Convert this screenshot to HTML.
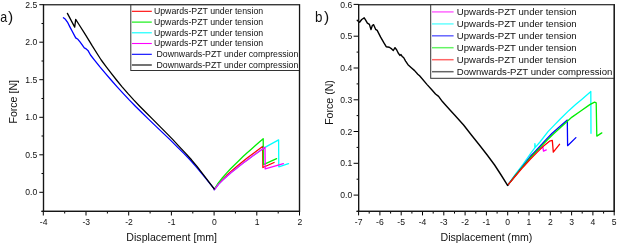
<!DOCTYPE html>
<html><head><meta charset="utf-8"><style>
html,body{margin:0;padding:0;background:#fff;}
body{width:617px;height:245px;overflow:hidden;}
svg{display:block;will-change:transform;}
text{font-family:"Liberation Sans", sans-serif;fill:#111;}
.tl{font-size:8.6px;}
.lgl{font-size:8.75px;}
.lgr{font-size:9.6px;}
.at{font-size:10.6px;}
.pl{font-size:14.5px;}
.pp{font-size:15.5px;}
</style></head><body>
<svg width="617" height="245" viewBox="0 0 617 245">
<rect width="617" height="245" fill="#fff"/>
<line x1="42.9" y1="4.7" x2="300.1" y2="4.7" stroke="#3a3a3a" stroke-width="1.2"/>
<line x1="299.5" y1="4.7" x2="299.5" y2="211.3" stroke="#151515" stroke-width="1.2" fill="none"/>
<line x1="43.5" y1="4.2" x2="43.5" y2="211.3" stroke="#151515" stroke-width="1.2" fill="none"/>
<line x1="41.5" y1="211.3" x2="300.1" y2="211.3" stroke="#151515" stroke-width="1.2" fill="none"/>
<line x1="39.3" y1="192.3" x2="43.5" y2="192.3" stroke="#000" stroke-width="1"/>
<text x="37.3" y="195.4" class="tl" text-anchor="end">0.0</text>
<line x1="41.5" y1="173.5" x2="43.5" y2="173.5" stroke="#000" stroke-width="1"/>
<line x1="39.3" y1="154.8" x2="43.5" y2="154.8" stroke="#000" stroke-width="1"/>
<text x="37.3" y="157.9" class="tl" text-anchor="end">0.5</text>
<line x1="41.5" y1="136.0" x2="43.5" y2="136.0" stroke="#000" stroke-width="1"/>
<line x1="39.3" y1="117.3" x2="43.5" y2="117.3" stroke="#000" stroke-width="1"/>
<text x="37.3" y="120.4" class="tl" text-anchor="end">1.0</text>
<line x1="41.5" y1="98.5" x2="43.5" y2="98.5" stroke="#000" stroke-width="1"/>
<line x1="39.3" y1="79.7" x2="43.5" y2="79.7" stroke="#000" stroke-width="1"/>
<text x="37.3" y="82.8" class="tl" text-anchor="end">1.5</text>
<line x1="41.5" y1="61.0" x2="43.5" y2="61.0" stroke="#000" stroke-width="1"/>
<line x1="39.3" y1="42.2" x2="43.5" y2="42.2" stroke="#000" stroke-width="1"/>
<text x="37.3" y="45.3" class="tl" text-anchor="end">2.0</text>
<line x1="41.5" y1="23.5" x2="43.5" y2="23.5" stroke="#000" stroke-width="1"/>
<line x1="39.3" y1="4.7" x2="43.5" y2="4.7" stroke="#000" stroke-width="1"/>
<text x="37.3" y="7.8" class="tl" text-anchor="end">2.5</text>
<line x1="43.3" y1="211.3" x2="43.3" y2="215.5" stroke="#000" stroke-width="1"/>
<text x="43.6" y="224.9" class="tl" text-anchor="middle">-4</text>
<line x1="64.7" y1="211.3" x2="64.7" y2="213.5" stroke="#000" stroke-width="1"/>
<line x1="86.0" y1="211.3" x2="86.0" y2="215.5" stroke="#000" stroke-width="1"/>
<text x="86.3" y="224.9" class="tl" text-anchor="middle">-3</text>
<line x1="107.4" y1="211.3" x2="107.4" y2="213.5" stroke="#000" stroke-width="1"/>
<line x1="128.7" y1="211.3" x2="128.7" y2="215.5" stroke="#000" stroke-width="1"/>
<text x="129.0" y="224.9" class="tl" text-anchor="middle">-2</text>
<line x1="150.1" y1="211.3" x2="150.1" y2="213.5" stroke="#000" stroke-width="1"/>
<line x1="171.4" y1="211.3" x2="171.4" y2="215.5" stroke="#000" stroke-width="1"/>
<text x="171.7" y="224.9" class="tl" text-anchor="middle">-1</text>
<line x1="192.8" y1="211.3" x2="192.8" y2="213.5" stroke="#000" stroke-width="1"/>
<line x1="214.1" y1="211.3" x2="214.1" y2="215.5" stroke="#000" stroke-width="1"/>
<text x="214.4" y="224.9" class="tl" text-anchor="middle">0</text>
<line x1="235.4" y1="211.3" x2="235.4" y2="213.5" stroke="#000" stroke-width="1"/>
<line x1="256.8" y1="211.3" x2="256.8" y2="215.5" stroke="#000" stroke-width="1"/>
<text x="257.1" y="224.9" class="tl" text-anchor="middle">1</text>
<line x1="278.2" y1="211.3" x2="278.2" y2="213.5" stroke="#000" stroke-width="1"/>
<line x1="299.5" y1="211.3" x2="299.5" y2="215.5" stroke="#000" stroke-width="1"/>
<text x="299.8" y="224.9" class="tl" text-anchor="middle">2</text>
<line x1="358.0" y1="4.6" x2="614.8000000000001" y2="4.6" stroke="#3a3a3a" stroke-width="1.2"/>
<line x1="614.2" y1="4.6" x2="614.2" y2="211.4" stroke="#151515" stroke-width="1.2" fill="none"/>
<line x1="358.6" y1="4.1" x2="358.6" y2="211.4" stroke="#151515" stroke-width="1.2" fill="none"/>
<line x1="356.6" y1="211.4" x2="614.8000000000001" y2="211.4" stroke="#151515" stroke-width="1.2" fill="none"/>
<line x1="353.6" y1="195.1" x2="358.6" y2="195.1" stroke="#000" stroke-width="1"/>
<text x="352.2" y="198.2" class="tl" text-anchor="end">0.0</text>
<line x1="356.6" y1="179.2" x2="358.6" y2="179.2" stroke="#000" stroke-width="1"/>
<line x1="353.6" y1="163.3" x2="358.6" y2="163.3" stroke="#000" stroke-width="1"/>
<text x="352.2" y="166.4" class="tl" text-anchor="end">0.1</text>
<line x1="356.6" y1="147.4" x2="358.6" y2="147.4" stroke="#000" stroke-width="1"/>
<line x1="353.6" y1="131.5" x2="358.6" y2="131.5" stroke="#000" stroke-width="1"/>
<text x="352.2" y="134.6" class="tl" text-anchor="end">0.2</text>
<line x1="356.6" y1="115.6" x2="358.6" y2="115.6" stroke="#000" stroke-width="1"/>
<line x1="353.6" y1="99.8" x2="358.6" y2="99.8" stroke="#000" stroke-width="1"/>
<text x="352.2" y="102.9" class="tl" text-anchor="end">0.3</text>
<line x1="356.6" y1="83.9" x2="358.6" y2="83.9" stroke="#000" stroke-width="1"/>
<line x1="353.6" y1="68.0" x2="358.6" y2="68.0" stroke="#000" stroke-width="1"/>
<text x="352.2" y="71.1" class="tl" text-anchor="end">0.4</text>
<line x1="356.6" y1="52.1" x2="358.6" y2="52.1" stroke="#000" stroke-width="1"/>
<line x1="353.6" y1="36.2" x2="358.6" y2="36.2" stroke="#000" stroke-width="1"/>
<text x="352.2" y="39.3" class="tl" text-anchor="end">0.5</text>
<line x1="356.6" y1="20.3" x2="358.6" y2="20.3" stroke="#000" stroke-width="1"/>
<line x1="353.6" y1="4.4" x2="358.6" y2="4.4" stroke="#000" stroke-width="1"/>
<text x="352.2" y="7.5" class="tl" text-anchor="end">0.6</text>
<line x1="358.6" y1="211.4" x2="358.6" y2="215.4" stroke="#000" stroke-width="1"/>
<text x="358.6" y="224.6" class="tl" text-anchor="middle">-7</text>
<line x1="369.2" y1="211.4" x2="369.2" y2="213.6" stroke="#000" stroke-width="1"/>
<line x1="379.9" y1="211.4" x2="379.9" y2="215.4" stroke="#000" stroke-width="1"/>
<text x="379.9" y="224.6" class="tl" text-anchor="middle">-6</text>
<line x1="390.6" y1="211.4" x2="390.6" y2="213.6" stroke="#000" stroke-width="1"/>
<line x1="401.2" y1="211.4" x2="401.2" y2="215.4" stroke="#000" stroke-width="1"/>
<text x="401.2" y="224.6" class="tl" text-anchor="middle">-5</text>
<line x1="411.9" y1="211.4" x2="411.9" y2="213.6" stroke="#000" stroke-width="1"/>
<line x1="422.5" y1="211.4" x2="422.5" y2="215.4" stroke="#000" stroke-width="1"/>
<text x="422.5" y="224.6" class="tl" text-anchor="middle">-4</text>
<line x1="433.2" y1="211.4" x2="433.2" y2="213.6" stroke="#000" stroke-width="1"/>
<line x1="443.8" y1="211.4" x2="443.8" y2="215.4" stroke="#000" stroke-width="1"/>
<text x="443.8" y="224.6" class="tl" text-anchor="middle">-3</text>
<line x1="454.5" y1="211.4" x2="454.5" y2="213.6" stroke="#000" stroke-width="1"/>
<line x1="465.1" y1="211.4" x2="465.1" y2="215.4" stroke="#000" stroke-width="1"/>
<text x="465.1" y="224.6" class="tl" text-anchor="middle">-2</text>
<line x1="475.8" y1="211.4" x2="475.8" y2="213.6" stroke="#000" stroke-width="1"/>
<line x1="486.4" y1="211.4" x2="486.4" y2="215.4" stroke="#000" stroke-width="1"/>
<text x="486.4" y="224.6" class="tl" text-anchor="middle">-1</text>
<line x1="497.1" y1="211.4" x2="497.1" y2="213.6" stroke="#000" stroke-width="1"/>
<line x1="507.7" y1="211.4" x2="507.7" y2="215.4" stroke="#000" stroke-width="1"/>
<text x="507.7" y="224.6" class="tl" text-anchor="middle">0</text>
<line x1="518.4" y1="211.4" x2="518.4" y2="213.6" stroke="#000" stroke-width="1"/>
<line x1="529.0" y1="211.4" x2="529.0" y2="215.4" stroke="#000" stroke-width="1"/>
<text x="529.0" y="224.6" class="tl" text-anchor="middle">1</text>
<line x1="539.7" y1="211.4" x2="539.7" y2="213.6" stroke="#000" stroke-width="1"/>
<line x1="550.3" y1="211.4" x2="550.3" y2="215.4" stroke="#000" stroke-width="1"/>
<text x="550.3" y="224.6" class="tl" text-anchor="middle">2</text>
<line x1="561.0" y1="211.4" x2="561.0" y2="213.6" stroke="#000" stroke-width="1"/>
<line x1="571.6" y1="211.4" x2="571.6" y2="215.4" stroke="#000" stroke-width="1"/>
<text x="571.6" y="224.6" class="tl" text-anchor="middle">3</text>
<line x1="582.2" y1="211.4" x2="582.2" y2="213.6" stroke="#000" stroke-width="1"/>
<line x1="592.9" y1="211.4" x2="592.9" y2="215.4" stroke="#000" stroke-width="1"/>
<text x="592.9" y="224.6" class="tl" text-anchor="middle">4</text>
<line x1="603.6" y1="211.4" x2="603.6" y2="213.6" stroke="#000" stroke-width="1"/>
<line x1="614.2" y1="211.4" x2="614.2" y2="215.4" stroke="#000" stroke-width="1"/>
<text x="614.2" y="224.6" class="tl" text-anchor="middle">5</text>
<polyline points="214.3,189.4 218.3,183.8 222.4,179.5 226.4,175.6 230.4,171.9 234.4,168.4 238.5,165.0 242.5,161.8 246.5,158.6 250.5,155.4 254.6,152.4 258.6,149.4 262.6,146.4 262.9,167.5 274.1,162.5" fill="none" stroke="#ff0000" stroke-width="1.3" stroke-linejoin="round" stroke-linecap="round"/>
<polyline points="214.3,189.4 218.4,182.8 222.5,177.7 226.5,173.1 230.6,168.8 234.7,164.7 238.8,160.7 242.8,156.8 246.9,153.0 251.0,149.4 255.1,145.7 259.1,142.2 263.2,138.7 263.4,164.6 276.6,158.7" fill="none" stroke="#00ee00" stroke-width="1.3" stroke-linejoin="round" stroke-linecap="round"/>
<polyline points="214.3,189.9 218.5,184.4 222.8,180.1 227.0,176.3 231.2,172.6 235.4,169.2 239.7,165.8 243.9,162.6 248.1,159.4 252.3,156.3 256.6,153.3 260.8,150.3 265.0,147.4 278.6,139.9 278.8,166.8 288.5,163.6" fill="none" stroke="#00ffff" stroke-width="1.3" stroke-linejoin="round" stroke-linecap="round"/>
<polyline points="214.3,189.9 218.5,184.4 222.8,180.1 227.0,176.3 231.2,172.6 235.4,169.2 239.7,165.8 243.9,162.6 248.1,159.4 252.3,156.3 256.6,153.3 260.8,150.3 265.0,147.4 265.2,168.9 283.4,163.6" fill="none" stroke="#ff00ff" stroke-width="1.3" stroke-linejoin="round" stroke-linecap="round"/>
<polyline points="63.4,17.8 65.4,19.3 67.8,22.7 70.0,27.1 72.2,31.3 75.7,37.9 77.9,39.3 80.0,41.9 84.3,47.9 85.7,48.6 87.9,50.4 90.5,55.0 94.7,60.3 99.7,66.6 105.4,73.4 111.1,80.0 116.9,86.6 123.1,93.4 129.2,99.9 135.4,106.2 142.0,112.8 148.5,119.1 155.5,125.9 163.1,133.1 170.2,139.9 176.9,146.6 183.8,153.4 190.0,159.8 195.8,166.4 203.7,175.8 214.2,188.9" fill="none" stroke="#0000ff" stroke-width="1.3" stroke-linejoin="round" stroke-linecap="round"/>
<polyline points="67.4,13.4 74.7,27.1 75.7,19.3 79.3,25.0 84.3,32.9 90.0,42.1 92.1,45.7 98.0,55.0 101.2,60.0 106.1,66.6 111.3,73.4 116.5,80.0 121.9,86.6 127.8,93.4 133.7,99.9 139.7,106.2 146.2,112.8 152.6,119.1 159.3,125.9 166.5,133.1 173.1,139.9 179.3,146.6 185.7,153.4 191.5,159.8 197.0,166.4 204.3,175.8 214.2,188.9" fill="none" stroke="#000000" stroke-width="1.3" stroke-linejoin="round" stroke-linecap="round"/>
<polyline points="507.6,185.4 515.0,175.5 523.0,165.3 531.0,155.6 537.0,150.4 542.8,146.6 543.5,151.2 546.3,149.9" fill="none" stroke="#ff00ff" stroke-width="1.3" stroke-linejoin="round" stroke-linecap="round"/>
<polyline points="507.6,185.4 515.0,175.0 523.0,164.3 531.4,152.4 534.8,147.9 534.9,143.6 535.3,147.4 540.0,142.0 548.0,131.6 555.0,124.4 560.0,119.3 569.0,110.4 575.6,104.6 581.7,99.4 590.3,92.0 590.8,91.4 591.0,133.3" fill="none" stroke="#00ffff" stroke-width="1.3" stroke-linejoin="round" stroke-linecap="round"/>
<polyline points="507.6,185.4 515.0,175.8 523.0,165.8 531.0,156.0 540.0,146.3 546.0,139.6 551.9,133.5 559.0,127.2 567.3,120.1 567.6,145.7 575.9,137.6" fill="none" stroke="#0000ff" stroke-width="1.3" stroke-linejoin="round" stroke-linecap="round"/>
<polyline points="507.6,185.4 515.0,176.0 523.0,166.3 531.0,157.0 540.0,147.6 547.0,140.3 553.4,134.0 560.0,127.9 566.0,122.5 572.0,117.1 580.4,111.2 589.8,104.6 594.6,102.1 596.2,102.8 596.8,136.1 601.8,132.9" fill="none" stroke="#00ee00" stroke-width="1.3" stroke-linejoin="round" stroke-linecap="round"/>
<polyline points="507.6,185.4 515.0,176.5 523.0,167.2 530.0,159.5 536.8,152.6 543.0,146.6 549.5,141.2 552.3,140.4 553.3,152.1 559.5,144.3" fill="none" stroke="#ff0000" stroke-width="1.3" stroke-linejoin="round" stroke-linecap="round"/>
<polyline points="357.6,20.6 359.6,22.2 361.7,19.5 364.2,17.8 365.5,19.8 367.4,23.1 369.4,24.4 371.0,29.6 372.3,25.5 373.6,24.7 375.6,29.3 377.2,30.4 380.5,36.9 383.8,42.7 386.2,46.7 389.3,47.2 391.7,48.9 393.3,50.5 395.0,47.7 396.6,49.7 398.2,53.0 399.9,55.4 401.0,54.6 402.3,56.6 403.6,57.5 405.6,61.1 408.0,64.7 411.3,67.7 414.6,70.6 417.8,74.2 419.8,76.0 427.1,84.6 432.0,90.0 435.5,94.0 438.6,96.4 442.2,101.3 445.5,105.0 450.0,110.0 454.6,115.0 463.6,125.0 471.4,135.0 479.4,145.0 487.2,155.0 494.6,165.0 501.1,175.0 507.6,185.4" fill="none" stroke="#000000" stroke-width="1.4" stroke-linejoin="round" stroke-linecap="round"/>
<rect x="130.8" y="4.7" width="168.7" height="65.8" fill="#fff" stroke="#333" stroke-width="1"/>
<line x1="131.9" y1="11.3" x2="151.8" y2="11.3" stroke="#ff0000" stroke-width="1.1"/>
<text x="153.9" y="14.0" class="lgl">Upwards-PZT under tension</text>
<line x1="131.9" y1="22.1" x2="151.8" y2="22.1" stroke="#00ee00" stroke-width="1.1"/>
<text x="153.9" y="24.8" class="lgl">Upwards-PZT under tension</text>
<line x1="131.9" y1="32.8" x2="151.8" y2="32.8" stroke="#00ffff" stroke-width="1.1"/>
<text x="153.9" y="35.5" class="lgl">Upwards-PZT under tension</text>
<line x1="131.9" y1="43.5" x2="151.8" y2="43.5" stroke="#ff00ff" stroke-width="1.1"/>
<text x="153.9" y="46.2" class="lgl">Upwards-PZT under tension</text>
<line x1="131.9" y1="54.3" x2="151.8" y2="54.3" stroke="#0000ff" stroke-width="1.1"/>
<text x="156.5" y="57.0" class="lgl">Downwards-PZT under compression</text>
<line x1="131.9" y1="65.0" x2="151.8" y2="65.0" stroke="#000000" stroke-width="1.1"/>
<text x="156.5" y="67.8" class="lgl">Downwards-PZT under compression</text>
<rect x="430.7" y="4.6" width="183.5" height="73.7" fill="#fff" stroke="#333" stroke-width="1"/>
<line x1="432" y1="11.9" x2="453.6" y2="11.9" stroke="#ff00ff" stroke-width="1.5" opacity="0.6"/>
<text x="456.8" y="15.3" class="lgr">Upwards-PZT under tension</text>
<line x1="432" y1="23.9" x2="453.6" y2="23.9" stroke="#00ffff" stroke-width="1.5" opacity="0.6"/>
<text x="456.8" y="27.2" class="lgr">Upwards-PZT under tension</text>
<line x1="432" y1="35.8" x2="453.6" y2="35.8" stroke="#0000ff" stroke-width="1.5" opacity="0.6"/>
<text x="456.8" y="39.2" class="lgr">Upwards-PZT under tension</text>
<line x1="432" y1="47.7" x2="453.6" y2="47.7" stroke="#00ee00" stroke-width="1.5" opacity="0.6"/>
<text x="456.8" y="51.1" class="lgr">Upwards-PZT under tension</text>
<line x1="432" y1="59.7" x2="453.6" y2="59.7" stroke="#ff0000" stroke-width="1.5" opacity="0.6"/>
<text x="456.8" y="63.1" class="lgr">Upwards-PZT under tension</text>
<line x1="432" y1="71.7" x2="453.6" y2="71.7" stroke="#000000" stroke-width="1.5" opacity="0.6"/>
<text x="456.8" y="75.1" class="lgr">Downwards-PZT under compression</text>
<line x1="42.9" y1="4.7" x2="300.1" y2="4.7" stroke="#3a3a3a" stroke-width="1.2"/>
<line x1="299.5" y1="4.7" x2="299.5" y2="211.3" stroke="#151515" stroke-width="1.2" fill="none"/>
<line x1="43.5" y1="4.2" x2="43.5" y2="211.3" stroke="#151515" stroke-width="1.2" fill="none"/>
<line x1="41.5" y1="211.3" x2="300.1" y2="211.3" stroke="#151515" stroke-width="1.2" fill="none"/>
<line x1="358.0" y1="4.6" x2="614.8000000000001" y2="4.6" stroke="#3a3a3a" stroke-width="1.2"/>
<line x1="614.2" y1="4.6" x2="614.2" y2="211.4" stroke="#151515" stroke-width="1.2" fill="none"/>
<line x1="358.6" y1="4.1" x2="358.6" y2="211.4" stroke="#151515" stroke-width="1.2" fill="none"/>
<line x1="356.6" y1="211.4" x2="614.8000000000001" y2="211.4" stroke="#151515" stroke-width="1.2" fill="none"/>
<text x="171.7" y="241.2" class="at" text-anchor="middle">Displacement [mm]</text>
<text x="486.4" y="241.4" class="at" text-anchor="middle">Displacement (mm)</text>
<text transform="translate(16.8,101.8) rotate(-90)" class="at" text-anchor="middle">Force [N]</text>
<text transform="translate(332.6,102.5) rotate(-90)" class="at" text-anchor="middle">Force (N)</text>
<text transform="translate(0.3,22.1) scale(0.86,1.05)" class="pl">a</text>
<text x="8.0" y="22.4" class="pp">)</text>
<text transform="translate(315.0,21.9) scale(0.92,1.0)" class="pl">b</text>
<text x="323.9" y="22.4" class="pp">)</text>
</svg>
</body></html>
